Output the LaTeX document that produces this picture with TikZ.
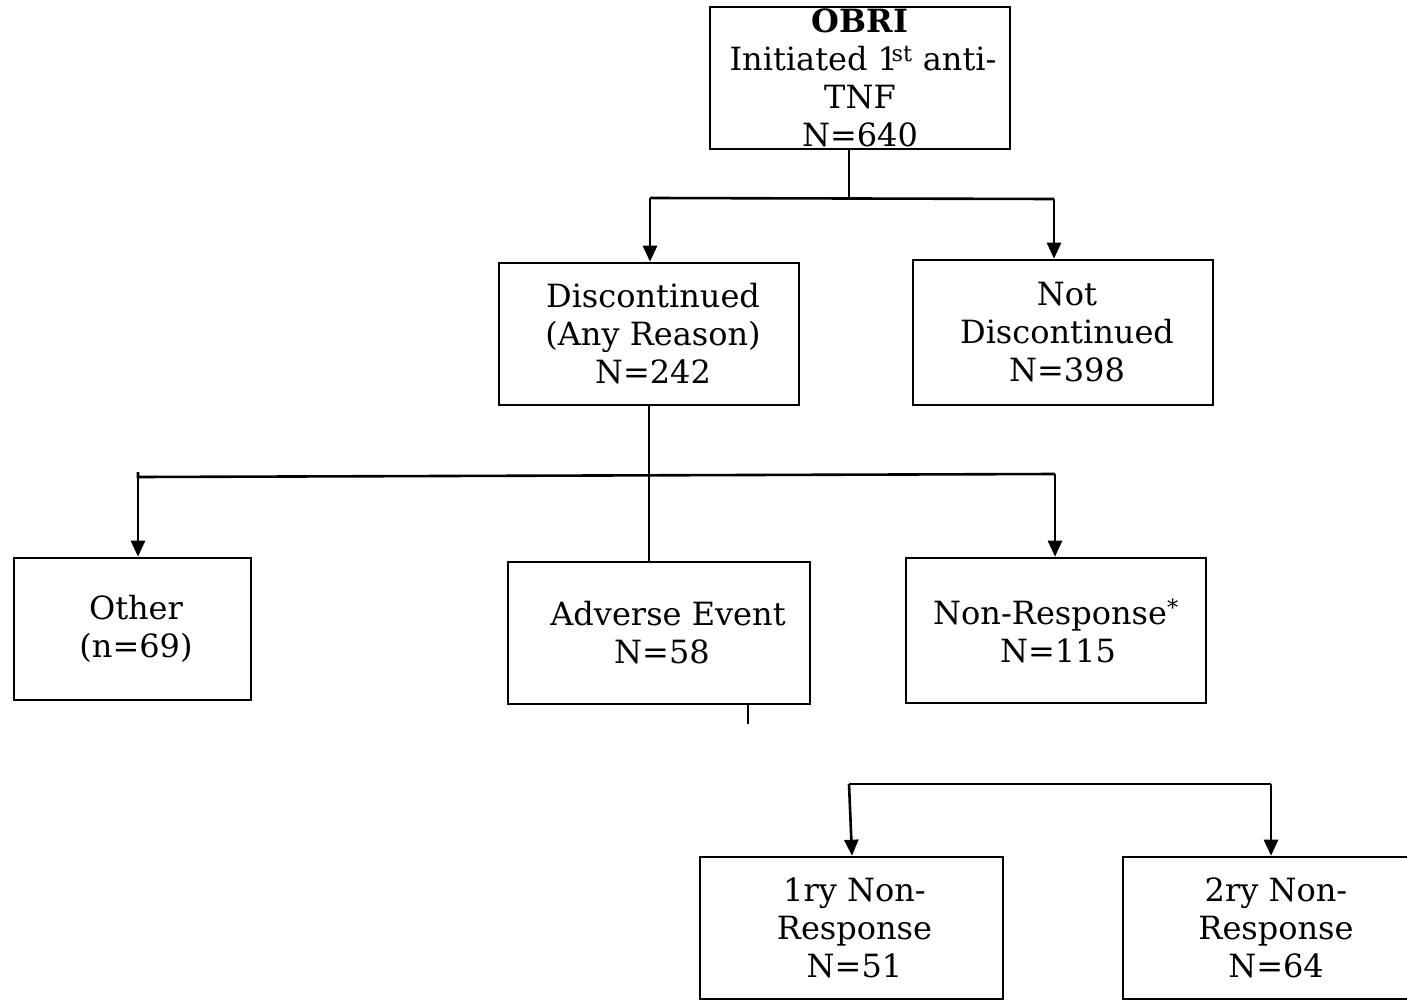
\documentclass[tikz,border=0pt]{standalone}
\usepackage{fontspec}
\setmainfont{DejaVu Serif}
\usetikzlibrary{arrows.meta}
\begin{document}
\begin{tikzpicture}[x=1pt,y=1pt,
  box/.style={draw,line width=2.6pt,inner sep=0pt,align=center,
    font=\fontsize{32}{38}\selectfont,minimum width=300pt,minimum height=142pt},
  conn/.style={line width=2.6pt},
  arr/.style={line width=2.6pt,-{Triangle[length=16pt,width=14pt]}}]
\useasboundingbox (0,0) rectangle (1407,-1003);
% boxes
\node[box] (obri) at (860,-78) {\textbf{OBRI}\\\hspace*{6pt}Initiated 1\kern-.2em\textsuperscript{st} anti-\\TNF\\N=640};
\node[box] (disc) at (649,-334) {\hspace*{8pt}Discontinued\\\hspace*{8pt}(Any Reason)\\\hspace*{8pt}N=242};
\node[box,minimum height=145pt] (notd) at (1063,-332.5) {\hspace*{8pt}Not\\\hspace*{8pt}Discontinued\\\hspace*{8pt}N=398};
\node[box,minimum width=237pt] (other) at (132.5,-629) {\hspace*{7pt}Other\\\hspace*{7pt}(n=69)};
\node[box,minimum width=302pt] (adv) at (659,-633) {\hspace*{18pt}Adverse Event\\\hspace*{6pt}N=58};
\node[box,minimum height=145pt] (nonr) at (1056,-630.5) {Non-Response\textsuperscript{*}\\\hspace*{4pt}N=115};
\node[box,minimum width=303pt] (r1) at (851.5,-928) {\hspace*{6pt}1ry Non-\\\hspace*{6pt}Response\\\hspace*{6pt}N=51};
\node[box,minimum width=303pt] (r2) at (1274.5,-928) {\hspace*{3pt}2ry Non-\\\hspace*{3pt}Response\\\hspace*{3pt}N=64};
% junctions
\coordinate (j1) at (849,-198);
\coordinate (jL) at (650,-198);
\coordinate (jR) at (1054,-199);
\coordinate (kL) at (138,-477);
\coordinate (kR) at (1055,-474);
\coordinate (kT) at (138,-472);
\coordinate (m1) at (748,-724);
\coordinate (nL) at (849,-784);
\coordinate (nR) at (1271,-784);
\coordinate (nT) at (852,-784);
% connectors
\draw[conn] (j1 |- obri.south) -- (j1);
\draw[conn] (jL) -- (jR);
\draw[arr] (jL) -- (jL |- disc.north);
\draw[arr] (jR) -- (jR |- notd.north);
\draw[conn] (disc.south) -- (disc.south |- adv.north);
\draw[conn] (kT) -- (kL) -- (kR);
\draw[arr] (kL) -- (kL |- other.north);
\draw[arr] (kR) -- (kR |- nonr.north);
\draw[conn] (m1 |- adv.south) -- (m1);
\draw[conn] (nL) -- (nR);
\draw[arr] (nL) -- (nT |- r1.north);
\draw[arr] (nR) -- (nR |- r2.north);
\end{tikzpicture}
\end{document}
